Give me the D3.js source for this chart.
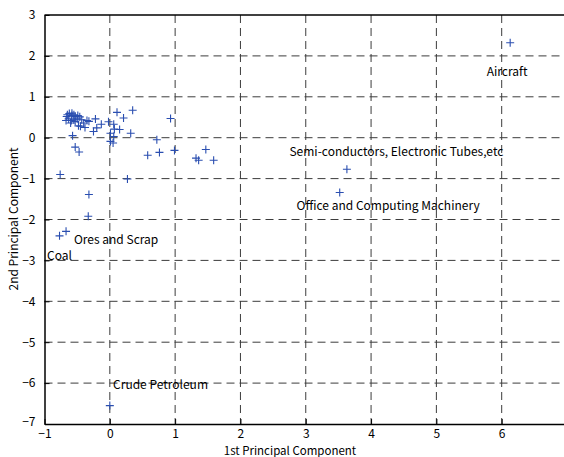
<!DOCTYPE html>
<html><head><meta charset="utf-8">
<script src="https://cdn.jsdelivr.net/npm/d3@7"></script>
<style>
body{margin:0;background:#fff;}
svg{display:block;}
text{font-family:"Noto Sans CJK JP","Noto Sans",sans-serif;fill:#000;}
</style></head>
<body>
<svg id="chart" width="564" height="457"></svg>
<script>
// first principal component scores
const pc1 = [0.11,0.35,0.21,0.93,-0.22,-0.13,-0.02,0.06,0.07,0.15,0.32,0.01,0.06,0.01,0.05,0.72,0.58,0.76,0.99,1.32,1.36,1.47,1.59,0.27,-0.76,-0.32,-0.53,-0.47,-0.57,-0.25,-0.38,-0.45,-0.32,-0.20,
  -0.66,-0.62,-0.58,-0.55,-0.53,-0.49,-0.46,-0.63,-0.59,-0.67,-0.55,-0.50,-0.43,-0.60,-0.58,-0.65,-0.53,-0.35,-0.40,-0.48,
  -0.33,-0.77,-0.67,0.00,3.63,3.52,6.13];
// second principal component scores
const pc2 = [0.62,0.67,0.48,0.47,0.46,0.33,0.39,0.33,0.21,0.20,0.11,0.11,0.03,-0.09,-0.13,-0.05,-0.43,-0.36,-0.31,-0.50,-0.55,-0.29,-0.55,-1.01,-0.90,-1.39,-0.23,-0.35,0.05,0.15,0.25,0.28,0.40,0.24,
  0.52,0.59,0.60,0.56,0.52,0.54,0.51,0.46,0.42,0.42,0.44,0.46,0.44,0.36,0.54,0.56,0.40,0.42,0.36,0.29,
  -1.92,-2.40,-2.29,-6.55,-0.77,-1.34,2.32];
// annotations
const labelText = ["Aircraft","Semi-conductors, Electronic Tubes,etc","Office and Computing Machinery","Ores and Scrap","Coal","Crude Petroleum"];
const labelX = [5.77,2.75,2.86,-0.55,-0.96,0.05];
const labelY = [1.5,-0.45,-1.76,-2.6,-3.0,-6.15];
const xTicks = [-1,0,1,2,3,4,5,6,7];
const yTicks = [3,2,1,0,-1,-2,-3,-4,-5,-6,-7];

const svg = d3.select("#chart");
const m = {l:44.5, t:15, r:567, b:424};
const x = d3.scaleLinear().domain([-1,7]).range([m.l, m.r]);
const y = d3.scaleLinear().domain([-7,3]).range([m.b, m.t]);
const fmt = d => d < 0 ? "\u2212" + Math.abs(d) : String(d);

// grid
const g = svg.append("g");
g.selectAll(".vg").data(xTicks.slice(1,-1)).enter().append("line")
  .attr("x1",d=>x(d)).attr("x2",d=>x(d)).attr("y1",m.t).attr("y2",m.b)
  .attr("stroke","#3c3c3c").attr("stroke-width",1).attr("stroke-dasharray","8,5");
g.selectAll(".hg").data(yTicks.slice(1,-1)).enter().append("line")
  .attr("x1",m.l).attr("x2",m.r).attr("y1",d=>y(d)).attr("y2",d=>y(d))
  .attr("stroke","#3c3c3c").attr("stroke-width",1).attr("stroke-dasharray","8,5");

// axes
const xa = svg.append("g").attr("transform",`translate(0,${m.b})`)
  .call(d3.axisBottom(x).tickValues(xTicks).tickFormat(fmt).tickSizeInner(-5).tickSizeOuter(0).tickPadding(5));
const ya = svg.append("g").attr("transform",`translate(${m.l},0)`)
  .call(d3.axisLeft(y).tickValues(yTicks).tickFormat(fmt).tickSizeInner(-5).tickSizeOuter(0).tickPadding(9));
[xa,ya].forEach(a=>{
  a.select(".domain").attr("stroke","#000").attr("stroke-width",1.5);
  a.selectAll(".tick line").attr("stroke","#000");
  a.selectAll("text").style("font-size","12px").style("font-family","\"Noto Sans CJK JP\",sans-serif");
});
ya.select(".tick:last-of-type text").attr("dy","0.1em");
svg.append("line").attr("x1",m.l).attr("x2",m.r).attr("y1",m.t).attr("y2",m.t).attr("stroke","#000").attr("stroke-width",1.5);

// points
const pts = pc1.map((v,i)=>({x:v,y:pc2[i]}));
const s = 4;
const mk = svg.append("g").attr("stroke","#2a4eb0").attr("stroke-width",1.1).attr("fill","none");
mk.selectAll("path").data(pts).enter().append("path")
  .attr("d",d=>{const cx=x(d.x), cy=y(d.y);return `M${cx-s},${cy}H${cx+s}M${cx},${cy-s}V${cy+s}`;});

// labels
svg.append("g").selectAll("text").data(labelText).enter().append("text")
  .attr("x",(d,i)=>x(labelX[i])).attr("y",(d,i)=>y(labelY[i]))
  .style("font-size","12px").text(d=>d);

// axis titles
svg.append("text").attr("x",290).attr("y",455).attr("text-anchor","middle").style("font-size","11.5px").text("1st Principal Component");
svg.append("text").attr("transform","translate(18,219) rotate(-90)").attr("text-anchor","middle").style("font-size","12px").text("2nd Principal Component");
</script>
</body></html>
